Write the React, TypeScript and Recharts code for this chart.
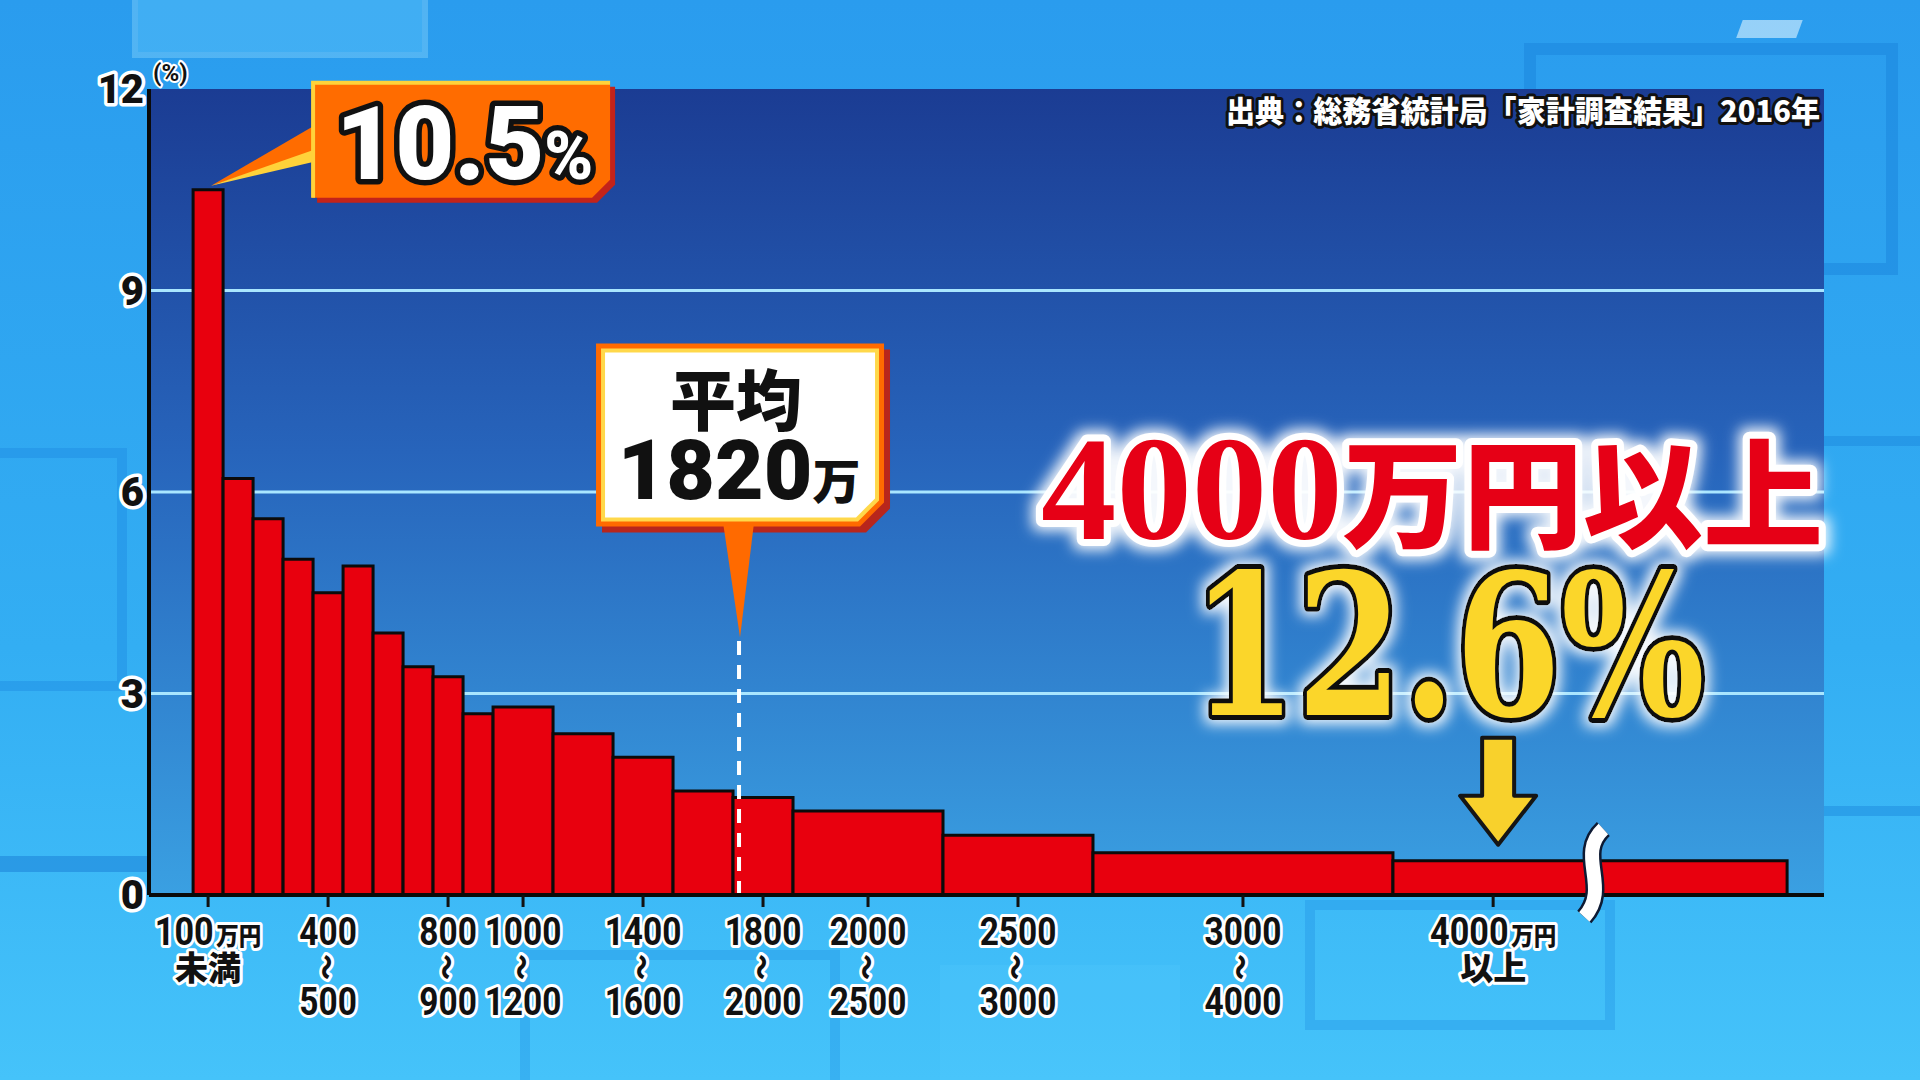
import * as React from "react";
import {
  CartesianGrid,
  ComposedChart,
  ReferenceArea,
  ReferenceDot,
  ReferenceLine,
  XAxis,
  YAxis,
} from "recharts";

const W = 1920;
const H = 1080;

// 貯蓄現在高階級（万円）。4000万円以上は省略記号を挟んで途中まで描く
const classFrom = [0, 100, 200, 300, 400, 500, 600, 700, 800, 900, 1000, 1200, 1400, 1600, 1800, 2000, 2500, 3000, 4000];
const classTo = [100, 200, 300, 400, 500, 600, 700, 800, 900, 1000, 1200, 1400, 1600, 1800, 2000, 2500, 3000, 4000, 5314];
// 縦軸：世帯割合（%）
const share = [10.5, 6.2, 5.6, 5.0, 4.5, 4.9, 3.9, 3.4, 3.25, 2.7, 2.8, 2.4, 2.05, 1.55, 1.45, 1.25, 0.89, 0.63, 0.51];

const tickAt = [50, 450, 850, 1100, 1500, 1900, 2250, 2750, 3500, 4334];
const tickUpper = ["100", "400", "800", "1000", "1400", "1800", "2000", "2500", "3000", "4000"];
const tickLower = ["未満", "500", "900", "1200", "1600", "2000", "2500", "3000", "4000", "以上"];
const UNIT = "万円";
const yTicks = [0, 3, 6, 9, 12];

const MEAN = 1820; // 平均（万円）
const MEAN_TIP = 3.85; // 吹き出しの先端の高さ
const BREAK_AT = 4668; // 省略記号
const PEAK = "10.5";
const TOP_CLASS = ["4000", "万円以上"];
const TOP_SHARE = "12.6%";
const SOURCE = "出典：総務省統計局「家計調査結果」2016年";

const X_DOMAIN: [number, number] = [-147, 5437];

const JP = "'Noto Sans CJK JP', sans-serif";
const NUM = "Roboto, 'Noto Sans', sans-serif";

const stroked = (color: string, w: number): React.CSSProperties => ({
  stroke: color,
  strokeWidth: w,
  strokeLinejoin: "round",
  paintOrder: "stroke",
});

function XTick({ x, y, payload }: any) {
  const i = tickAt.indexOf(payload.value);
  if (i < 0) return null;
  const open = i === 0 || i === tickAt.length - 1;
  const base = { fill: "#111", textAnchor: "middle" as const, style: stroked("#fff", 6) };
  if (open) {
    return (
      <g>
        <g transform={`translate(${x},0) scale(0.9,1)`}>
          <text x={0} y={y + 36} fontFamily={NUM} fontWeight={700} fontSize={38} {...base}>
            {tickUpper[i]}
            <tspan fontFamily={JP} fontWeight={900} fontSize={25} dx={3}>
              {UNIT}
            </tspan>
          </text>
        </g>
        <text x={x} y={y + 71} fontFamily={JP} fontWeight={900} fontSize={33} {...base}>
          {tickLower[i]}
        </text>
      </g>
    );
  }
  return (
    <g>
      <g transform={`translate(${x},0) scale(0.88,1)`}>
        <text x={0} y={y + 36} fontFamily={NUM} fontWeight={700} fontSize={38} {...base}>
          {tickUpper[i]}
        </text>
        <text x={0} y={y + 106} fontFamily={NUM} fontWeight={700} fontSize={38} {...base}>
          {tickLower[i]}
        </text>
      </g>
      <text
        x={x}
        y={y + 58}
        transform={`rotate(90 ${x} ${y + 58})`}
        fontFamily={JP}
        fontWeight={900}
        fontSize={26}
        dominantBaseline="central"
        {...base}
      >
        〜
      </text>
    </g>
  );
}

function YTick({ x, y, payload }: any) {
  return (
    <text
      x={x}
      y={y + 14}
      textAnchor="end"
      fontFamily={NUM}
      fontWeight={900}
      fontSize={40}
      fill="#111"
      style={stroked("#fff", 7)}
    >
      {payload.value}
    </text>
  );
}

// 最頻階級の吹き出し（棒の頂点に固定）
function PeakCallout({ cx, cy }: any) {
  const L = cx + 104;
  const R = cx + 402;
  const T = cy - 108;
  const B = cy + 8;
  const c = 18;
  const box = `${L},${T} ${R},${T} ${R},${B - c} ${R - c},${B} ${L},${B}`;
  return (
    <g>
      <polygon points={box} transform="translate(5,5)" fill="#c3231a" />
      <polygon points={`${L + 2},${T + 44} ${cx + 3},${cy - 4} ${L + 2},${T + 70}`} fill="#ff6c00" />
      <polygon points={`${L + 2},${T + 68} ${cx + 3},${cy - 4} ${L + 2},${T + 80}`} fill="#ffd23a" />
      <polygon points={box} fill="#ff6c00" />
      <polyline points={`${L + 1},${B} ${L + 1},${T + 1} ${R},${T + 1}`} fill="none" stroke="#ffd23a" strokeWidth={4} />
      <text x={L + 24} y={T + 97} fontFamily={NUM} fontWeight={900} fontSize={102} fill="#fff" style={stroked("#111", 11)}>
        {PEAK}
        <tspan fontSize={66}>%</tspan>
      </text>
    </g>
  );
}

// 平均の吹き出し
function MeanCallout({ cx, cy }: any) {
  const L = cx - 143;
  const R = cx + 145;
  const T = cy - 293;
  const B = cy - 110;
  const poly = (d: number, c: number) =>
    `${L + d},${T + d} ${R - d},${T + d} ${R - d},${B - d - c} ${R - d - c},${B - d} ${L + d},${B - d}`;
  return (
    <g>
      <polygon points={poly(0, 24)} transform="translate(6,6)" fill="#b8261c" />
      <polygon points={`${cx - 16},${B - 4} ${cx + 1},${cy + 1} ${cx + 15},${B - 4}`} fill="#ff6a00" />
      <polygon points={poly(0, 24)} fill="#ff6a00" />
      <polygon points={poly(5, 21)} fill="#ffd84a" />
      <polygon points={poly(9, 19)} fill="#fff" />
      <text x={cx - 3} y={T + 82} textAnchor="middle" fontFamily={JP} fontWeight={900} fontSize={66} fill="#111">
        平均
      </text>
      <text x={cx} y={T + 156} textAnchor="middle" fill="#111">
        <tspan fontFamily={NUM} fontWeight={900} fontSize={84}>
          {String(MEAN)}
        </tspan>
        <tspan fontFamily={JP} fontWeight={900} fontSize={48}>
          万
        </tspan>
      </text>
    </g>
  );
}

// 4000万円以上の強調と矢印
function TopCallout({ cx, cy }: any) {
  const ax = cx + 5;
  const arrow = `M${ax - 16},${cy - 123} H${ax + 16} V${cy - 65} H${ax + 38} L${ax},${cy - 16} L${ax - 38},${cy - 65} H${ax - 16} Z`;
  return (
    <g>
      <text
        x={cx - 452}
        y={cy - 322}
        textLength={782}
        lengthAdjust="spacingAndGlyphs"
        fill="#e60012"
        filter="url(#glow)"
        style={stroked("#ffffff", 14)}
      >
        <tspan fontFamily="'Liberation Serif', serif" fontWeight={700} fontSize={148}>
          {TOP_CLASS[0]}
        </tspan>
        <tspan fontFamily={JP} fontWeight={900} fontSize={118}>
          {TOP_CLASS[1]}
        </tspan>
      </text>
      <text
        x={cx - 302}
        y={cy - 146}
        textLength={514}
        lengthAdjust="spacingAndGlyphs"
        fontFamily="'DejaVu Serif', serif"
        fontWeight={700}
        fontSize={196}
        fill="#fbd62c"
        filter="url(#glow)"
        style={stroked("#111111", 10)}
      >
        {TOP_SHARE}
      </text>
      <path d={arrow} fill="#f8d12c" stroke="#151515" strokeWidth={4} strokeLinejoin="round" />
    </g>
  );
}

function BreakMark({ cx, cy }: any) {
  const d = `M${cx + 10},${cy - 66} C${cx - 18},${cy - 40} ${cx + 18},${cy - 8} ${cx - 9},${cy + 22}`;
  return (
    <g>
      <path d={d} fill="none" stroke="#0d1a33" strokeWidth={19} strokeLinecap="butt" />
      <path d={d} fill="none" stroke="#ffffff" strokeWidth={14} strokeLinecap="butt" />
    </g>
  );
}

function SourceNote({ cx, cy }: any) {
  return (
    <text
      x={cx - 4}
      y={cy + 33}
      textAnchor="end"
      textLength={594}
      lengthAdjust="spacingAndGlyphs"
      fontFamily={JP}
      fontWeight={900}
      fontSize={30}
      fill="#fff"
      style={stroked("#111", 6)}
    >
      {SOURCE}
    </text>
  );
}

function PercentUnit({ cx, cy }: any) {
  return (
    <text x={cx + 4} y={cy - 8} fontFamily={NUM} fontWeight={700} fontSize={24} fill="#111" style={stroked("#fff", 4)}>
      (%)
    </text>
  );
}

function Backdrop() {
  return (
    <svg width={W} height={H} style={{ position: "absolute", left: 0, top: 0 }}>
      <defs>
        <linearGradient id="outerFill" x1="0" y1="0" x2="0" y2="1">
          <stop offset="0" stopColor="#2a9cee" />
          <stop offset="0.6" stopColor="#33aef3" />
          <stop offset="1" stopColor="#45c3fa" />
        </linearGradient>
        <linearGradient id="plotFill" x1="0" y1="0" x2="0" y2="1">
          <stop offset="0" stopColor="#1b3c93" />
          <stop offset="0.45" stopColor="#2764bb" />
          <stop offset="1" stopColor="#3aa0e2" />
        </linearGradient>
        <filter id="glow" x="-15%" y="-35%" width="130%" height="170%">
          <feMorphology in="SourceAlpha" operator="dilate" radius="4" result="wide" />
          <feGaussianBlur in="wide" stdDeviation="7" result="soft" />
          <feFlood floodColor="#ffffff" floodOpacity="0.95" />
          <feComposite in2="soft" operator="in" result="halo" />
          <feMerge>
            <feMergeNode in="halo" />
            <feMergeNode in="SourceGraphic" />
          </feMerge>
        </filter>
      </defs>
      <rect x={0} y={0} width={W} height={H} fill="url(#outerFill)" />
      <rect x={135} y={-10} width={290} height={65} fill="#6ad0ff" opacity={0.35} stroke="#9be0ff" strokeWidth={6} />
      <rect x={1530} y={49} width={362} height={220} fill="none" stroke="#1a84dc" strokeWidth={12} opacity={0.5} />
      <rect x={1812} y={441} width={140} height={370} fill="none" stroke="#1a84dc" strokeWidth={10} opacity={0.45} />
      <rect x={-20} y={453} width={142} height={233} fill="none" stroke="#1f8ee3" strokeWidth={10} opacity={0.5} />
      <rect x={-10} y={856} width={170} height={16} fill="#1e86da" opacity={0.6} />
      <rect x={525} y={955} width={310} height={140} fill="none" stroke="#1f8ee3" strokeWidth={10} opacity={0.35} />
      <rect x={1310} y={905} width={300} height={120} fill="none" stroke="#1f8ee3" strokeWidth={10} opacity={0.35} />
      <rect x={940} y={965} width={240} height={130} fill="#5cccff" opacity={0.2} />
      <rect x={1750} y={20} width={60} height={18} fill="#dff4ff" opacity={0.6} transform="skewX(-20)" />
    </svg>
  );
}

export default function App() {
  const data = classFrom.map((f, i) => ({ mid: (f + classTo[i]) / 2, share: share[i] }));
  return (
    <div style={{ position: "absolute", left: 0, top: 0, width: W, height: H, overflow: "hidden" }}>
      <Backdrop />
      <div style={{ position: "absolute", left: 0, top: 0 }}>
        <ComposedChart width={W} height={H} data={data} margin={{ top: 89, right: 96, bottom: 35, left: 59 }}>
          <CartesianGrid
            vertical={false}
            horizontalValues={[3, 6, 9]}
            stroke="#a9e6ff"
            strokeWidth={3}
            fill="url(#plotFill)"
            fillOpacity={1}
          />
          <XAxis
            type="number"
            dataKey="mid"
            domain={X_DOMAIN}
            ticks={tickAt}
            interval={0}
            allowDataOverflow
            height={150}
            tickSize={12}
            tick={<XTick />}
            tickLine={{ stroke: "#111", strokeWidth: 3 }}
            axisLine={{ stroke: "#0a0a0a", strokeWidth: 4 }}
          />
          <YAxis
            type="number"
            domain={[0, 12]}
            ticks={yTicks}
            interval={0}
            allowDataOverflow
            width={90}
            tickSize={0}
            tickMargin={5}
            tick={<YTick />}
            tickLine={false}
            axisLine={{ stroke: "#0a0a0a", strokeWidth: 4 }}
          />
          {classFrom.map((f, i) => (
            <ReferenceArea
              key={f}
              x1={f}
              x2={classTo[i]}
              y1={0}
              y2={share[i]}
              fill="#e8000e"
              fillOpacity={1}
              stroke="#0b0b0b"
              strokeWidth={3}
              ifOverflow="visible"
            />
          ))}
          <ReferenceLine
            segment={[
              { x: MEAN, y: 0 },
              { x: MEAN, y: MEAN_TIP },
            ]}
            stroke="#ffffff"
            strokeWidth={4}
            strokeDasharray="14 10"
          />
          <ReferenceDot x={BREAK_AT} y={0} ifOverflow="visible" shape={(p: any) => <BreakMark cx={p.cx} cy={p.cy} />} />
          <ReferenceDot x={50} y={share[0]} ifOverflow="visible" shape={(p: any) => <PeakCallout cx={p.cx} cy={p.cy} />} />
          <ReferenceDot x={MEAN} y={MEAN_TIP} ifOverflow="visible" shape={(p: any) => <MeanCallout cx={p.cx} cy={p.cy} />} />
          <ReferenceDot
            x={tickAt[tickAt.length - 1]}
            y={share[share.length - 1]}
            ifOverflow="visible"
            shape={(p: any) => <TopCallout cx={p.cx} cy={p.cy} />}
          />
          <ReferenceDot x={X_DOMAIN[1]} y={12} ifOverflow="visible" shape={(p: any) => <SourceNote cx={p.cx} cy={p.cy} />} />
          <ReferenceDot x={X_DOMAIN[0]} y={12} ifOverflow="visible" shape={(p: any) => <PercentUnit cx={p.cx} cy={p.cy} />} />
        </ComposedChart>
      </div>
    </div>
  );
}
